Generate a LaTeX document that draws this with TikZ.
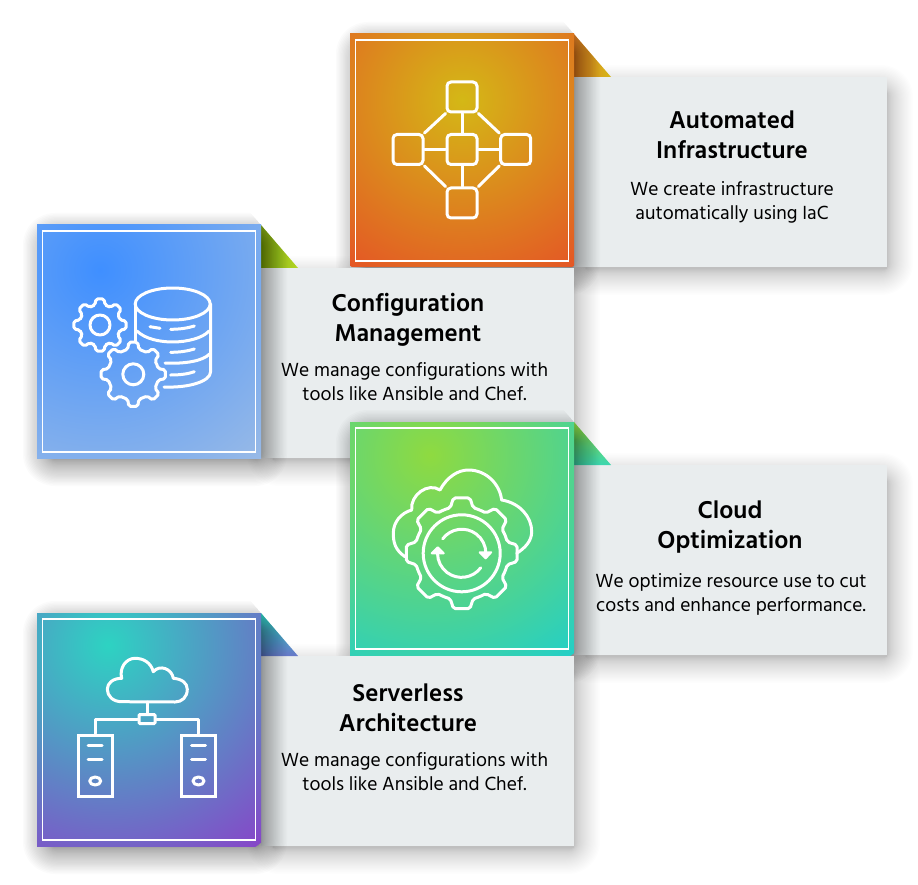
\documentclass[tikz,border=0pt]{standalone}
\usepackage{fontspec}
\setmainfont{Hind Madurai}
\definecolor{panelgrey}{HTML}{E9EDEE}
\definecolor{autoInner}{HTML}{D4B816}
\definecolor{autoOuter}{HTML}{E45725}
\definecolor{autoFold}{HTML}{E07C28}
\definecolor{confInner}{HTML}{3F8FFF}
\definecolor{confOuter}{HTML}{99BAE6}
\definecolor{confFoldA}{HTML}{7FA81A}
\definecolor{confFoldB}{HTML}{B4D620}
\definecolor{clouInner}{HTML}{8FDA40}
\definecolor{clouOuter}{HTML}{24CFC6}
\definecolor{clouFold}{HTML}{3AD6B0}
\definecolor{servInner}{HTML}{2DD3C2}
\definecolor{servOuter}{HTML}{8647C8}
\definecolor{servFold}{HTML}{6878C8}
\tikzset{
    iconline/.style={draw=white, line width=3pt, line join=round, line cap=round},
    iconbox/.style={draw=white, line width=3pt, rounded corners=4pt, minimum size=30pt, inner sep=0pt},
    srvbox/.style={draw=white, line width=3pt, minimum width=34pt, minimum height=61pt, inner sep=0pt},
    headtext/.style={anchor=base, align=center, font=\fontsize{25}{30}\selectfont\bfseries, text=black},
    bodytext/.style={anchor=base, align=center, font=\fontsize{19.5}{24}\selectfont, text=black}
}
% blurred edge: stacked see-through rectangles, thicker near the edge
\newcommand{\softshadow}[7]{
    \foreach \i in {1,...,32} {
        \pgfmathsetmacro{\d}{#5+(#6-#5)*pow(\i/32,1.6)}
        \fill[black, opacity=#7, rounded corners=\i pt] ({#1-\d},{#2-\d}) rectangle ({#3+\d},{#4+\d});
    }
}
\newcommand{\cardbase}[8]{
    \fill[panelgrey] (#1+224,#2+43) rectangle (#1+537,#2+233);
    \shade[#3] (#1+224,#2) -- (#1+261,#2+43) -- (#1+224,#2+43) -- cycle;
    \begin{scope}
        \clip (#1-40,#2-30) -- (#1+198,#2-30) -- (#1+261,#2+43) -- (#1+300,#2+43) -- (#1+300,#2+290) -- (#1-40,#2+290) -- cycle;
        \softshadow{#1+6}{#2+8}{#1+230}{#2+241}{-8}{20}{0.016}
    \end{scope}
    \begin{scope}
        \clip (#1,#2) rectangle (#1+224,#2+233);
        \shade[inner color=#6, outer color=#7] (#4,#5) circle (#8);
    \end{scope}
    \draw[white, line width=1.8pt] (#1+5.5,#2+6) rectangle (#1+218.5,#2+227);
}
% one cog: teeth, root radius, tip radius, half angles
\newcommand{\cogwheel}[5]{
    \pgfmathsetmacro{\stepa}{360/#1}
    \draw[iconline, rounded corners=2pt] ({-\stepa/2}:#2)
        \foreach \k in {1,...,#1} {
            -- ({(\k-1)*\stepa-#4}:#2) -- ({(\k-1)*\stepa-#5}:#3) -- ({(\k-1)*\stepa+#5}:#3)
            -- ({(\k-1)*\stepa+#4}:#2) -- ({(\k-1)*\stepa+\stepa/2}:#2)
        };
}
\begin{document}
\begin{tikzpicture}[x=1pt, y=-1pt]
    \useasboundingbox (0,0) rectangle (918,885);

    % panel shadows lie under everything
    \foreach \px/\py in {350/34, 37/225, 350/422, 37/613} {
        \softshadow{\px+230}{\py+51}{\px+543}{\py+241}{-6}{20}{0.008}
    }

    % automated infrastructure
    \cardbase{350}{34}{left color=autoFold, right color=autoInner}{462}{100}{autoInner}{autoOuter}{200}
    \node[iconbox] (hub) at (462,149.5) {};
    \node[iconbox] (north) at (462,97) {};
    \node[iconbox] (south) at (462,203) {};
    \node[iconbox] (west) at (408,149.5) {};
    \node[iconbox] (east) at (515.7,149.5) {};
    \draw[iconline] (north) -- (hub);
    \draw[iconline] (south) -- (hub);
    \draw[iconline] (west) -- (hub);
    \draw[iconline] (east) -- (hub);
    \draw[iconline] (north.south west) -- (west.north east);
    \draw[iconline] (north.south east) -- (east.north west);
    \draw[iconline] (south.north west) -- (west.south east);
    \draw[iconline] (south.north east) -- (east.south west);
    \node[headtext] (autohead) at (732,158.7) {Automated\\Infrastructure};
    \node[bodytext] (autobody) at (732,220) {We create infrastructure\\automatically using IaC};

    % configuration management
    \cardbase{37}{225}{left color=confFoldA, right color=confFoldB}{100}{270}{confInner}{confOuter}{250}
    \draw[iconline] (172.7,304) ellipse (37.5 and 16);
    \draw[iconline] (135,304) -- (135,341);
    \draw[iconline] (210.5,304) -- (210.5,372) .. controls (210.5,381) and (190,388) .. (164,387);
    \draw[iconline] (137,331) .. controls (145,339) and (160,342) .. (172.7,342) .. controls (187,342) and (203,338) .. (209,331);
    \draw[iconline] (165,363) .. controls (185,364) and (203,361) .. (209.5,354);
    \draw[iconline] (150,326.7) -- (160,328.3);
    \draw[iconline] (170.7,329.3) .. controls (180,329.3) and (188,328) .. (194.3,326);
    \draw[iconline] (170.7,352.3) .. controls (180,352.3) and (188,351) .. (194.3,349);
    \draw[iconline] (170.7,375) .. controls (180,375) and (188,374) .. (194.3,371.7);
    \begin{scope}[shift={(100,325)}]
        \cogwheel{8}{20.5}{26.5}{14}{9}
        \draw[iconline] (0,0) circle (10);
    \end{scope}
    \begin{scope}[shift={(133.3,374.3)}]
        \cogwheel{8}{25.5}{32.5}{12.5}{8}
        \draw[iconline] (0,0) circle (10.5);
    \end{scope}
    \node[headtext] (confhead) at (408,341) {Configuration\\Management};
    \node[bodytext] (confbody) at (414.5,400) {We manage configurations with\\tools like Ansible and Chef.};

    % cloud optimization
    \cardbase{350}{422}{top color=clouInner, bottom color=clouFold}{430}{455}{clouInner}{clouOuter}{245}
    \draw[iconline] (405,556.7) .. controls (395,550) and (393.3,542) .. (393.3,533.3)
        .. controls (393.3,522) and (401,513) .. (411.7,510)
        .. controls (410,495) and (428,482) .. (440,490)
        .. controls (447,477) and (458,470) .. (468.3,470)
        .. controls (487,470) and (500,485) .. (501.7,500)
        .. controls (520,503) and (531.7,517) .. (531.7,531.7)
        .. controls (531.7,541) and (525,548) .. (516.7,553.3);
    \begin{scope}[shift={(461.7,553.3)}]
        \cogwheel{8}{47}{56}{14}{8.5}
        \draw[iconline] (0,0) circle (38.5);
        \draw[iconline] (-19,-14.5) arc[start angle=217, end angle=360, radius=24];
        \draw[iconline] (19,14.5) arc[start angle=37, end angle=180, radius=24];
        \fill[white, draw=white, line width=2pt, line join=round] (24,5) -- (18,-1) -- (29.5,-1) -- cycle;
        \fill[white, draw=white, line width=2pt, line join=round] (-24,-6) -- (-30,0) -- (-18,0) -- cycle;
    \end{scope}
    \node[headtext] (clouhead) at (730,548.7) {Cloud\\Optimization};
    \node[bodytext] (cloubody) at (731,611) {We optimize resource use to cut\\costs and enhance performance.};

    % serverless architecture
    \cardbase{37}{613}{top color=servInner, bottom color=servFold}{108}{645}{servInner}{servOuter}{250}
    \coordinate (cloudfoot) at (147,702);
    \draw[iconline] (121.7,701.7) .. controls (113,701.7) and (107.3,696) .. (107.3,689.3)
        .. controls (107.3,683) and (113,678.3) .. (121.7,678.3)
        .. controls (119,668) and (126,658.3) .. (135,658.3)
        .. controls (144,658.3) and (151,663) .. (153.3,671.7)
        .. controls (160,664) and (172,669) .. (173.3,678.3)
        .. controls (182,679) and (187.3,683) .. (187.3,689.3)
        .. controls (187.3,697) and (182,702) .. (175,702) -- cycle;
    \node[draw=white, line width=3pt, rounded corners=1pt, minimum width=16pt, minimum height=9pt, inner sep=0pt] (switch) at (147,719) {};
    \node[srvbox] (srvleft) at (95.2,765.5) {};
    \node[srvbox] (srvright) at (198.5,765.5) {};
    \draw[iconline] (cloudfoot) -- (switch);
    \draw[iconline] (switch) -| (srvleft.north);
    \draw[iconline] (switch) -| (srvright.north);
    \foreach \srv in {srvleft, srvright} {
        \draw[iconline] ([xshift=-7pt,yshift=-12pt]\srv.north) -- ([xshift=7pt,yshift=-12pt]\srv.north);
        \draw[iconline] ([xshift=-7pt,yshift=-26pt]\srv.north) -- ([xshift=7pt,yshift=-26pt]\srv.north);
        \draw[iconline] ([yshift=16.5pt]\srv.south) ellipse (5.5 and 4);
    }
    \node[headtext] (servhead) at (408,731) {Serverless\\Architecture};
    \node[bodytext] (servbody) at (414.5,790) {We manage configurations with\\tools like Ansible and Chef.};
\end{tikzpicture}
\end{document}
